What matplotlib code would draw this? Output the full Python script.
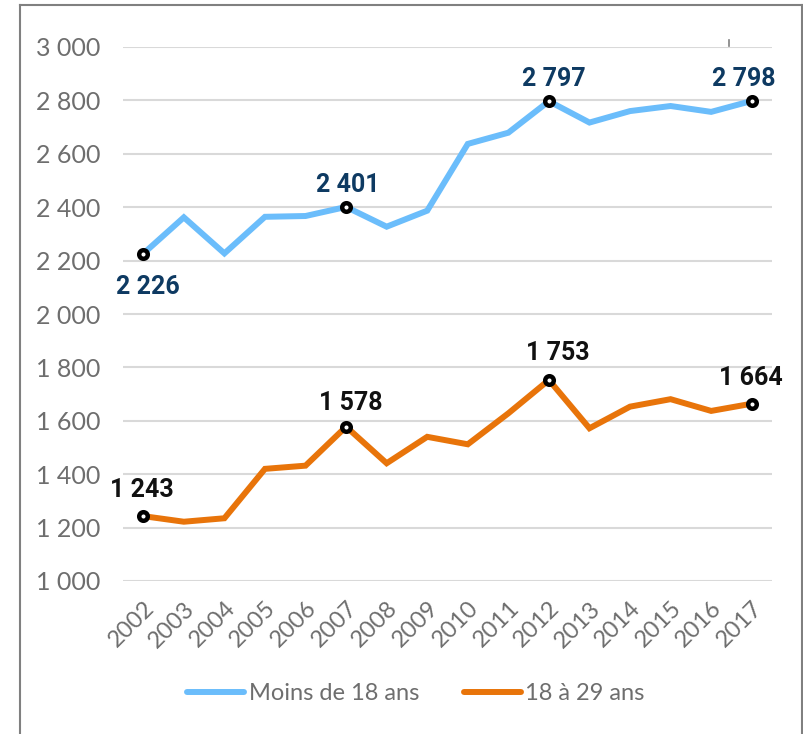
import matplotlib
matplotlib.use("Agg")
import matplotlib.pyplot as plt
from matplotlib.lines import Line2D

years = ["2002", "2003", "2004", "2005", "2006", "2007", "2008", "2009",
         "2010", "2011", "2012", "2013", "2014", "2015", "2016", "2017"]
moins18 = [2226, 2362, 2227, 2364, 2367, 2401, 2327, 2387,
           2637, 2679, 2797, 2717, 2760, 2779, 2757, 2798]
de18a29 = [1243, 1222, 1235, 1420, 1432, 1578, 1441, 1540,
           1512, 1628, 1753, 1572, 1653, 1681, 1637, 1664]
series_names = ["Moins de 18 ans", "18 à 29 ans"]
yticks = [1000, 1200, 1400, 1600, 1800, 2000, 2200, 2400, 2600, 2800, 3000]

# labelled points: (index, pixel offset)
blue_labels = [(0, (5, -33)), (5, (2, 22)), (10, (5, 22)), (15, (-8, 22))]
orange_labels = [(0, (-1, 26)), (5, (5, 24)), (10, (9, 27)), (15, (-1, 26))]

plt.rcParams['font.family'] = ['Lato', 'DejaVu Sans']

W, H = 804, 734
fig = plt.figure(figsize=(W / 100, H / 100), dpi=100)
ax = fig.add_axes([123 / W, 1 - 581 / H, (772 - 123) / W, (581 - 47) / H])

blue = "#6BBDFB"
orange = "#E8740A"
grey_txt = "#6E6E6E"

x = list(range(len(years)))
ax.plot(x, moins18, color=blue, lw=4.3, solid_joinstyle='miter', label=series_names[0], zorder=3)
ax.plot(x, de18a29, color=orange, lw=4.3, solid_joinstyle='miter', label=series_names[1], zorder=3)

def fmt(v):
    return f"{v:,}".replace(",", " ")

for vals, labs, col in [(moins18, blue_labels, "#0E3A62"), (de18a29, orange_labels, "#111111")]:
    for i, (dx, dy) in labs:
        ax.plot(x[i], vals[i], marker='o', ms=6.2, mfc='white', mec='black', mew=3.2, zorder=4, clip_on=False)
        ax.annotate(fmt(vals[i]), (x[i], vals[i]), xytext=(dx, dy), textcoords='offset pixels',
                    ha='center', va='center', fontsize=18, fontweight='bold', color=col,
                    family=['Roboto', 'DejaVu Sans'], annotation_clip=False, zorder=5)

ax.set_xlim(-0.5, len(years) - 0.5)
ax.set_ylim(1000, 3000)
ax.set_yticks(yticks)
ax.set_yticklabels([fmt(v) for v in yticks], color=grey_txt, fontsize=18)
ax.set_xticks(x)
ax.set_xticklabels(years, rotation=45, ha='right', rotation_mode='anchor', color=grey_txt, fontsize=17)
ax.tick_params(axis='both', length=0)
ax.tick_params(axis='y', pad=16)
ax.tick_params(axis='x', pad=12)
for s in ax.spines.values():
    s.set_visible(False)
ax.grid(axis='y', color='#D9D9D9', lw=1.5, zorder=0)
ax.set_axisbelow(True)

leg = fig.legend(loc='center', bbox_to_anchor=(416 / W, 1 - 694 / H), ncol=2, frameon=False,
                 fontsize=17, handlelength=2.4, columnspacing=1.9, handletextpad=0.2)
for t in leg.get_texts():
    t.set_color(grey_txt)
for l in leg.get_lines():
    l.set_solid_capstyle('round')

# outer frame (open at bottom)
fc = "#808080"
fig.add_artist(Line2D([20 / W, 20 / W], [0, 1 - 5 / H], color=fc, lw=1.5, transform=fig.transFigure))
fig.add_artist(Line2D([20 / W, 802 / W], [1 - 5 / H, 1 - 5 / H], color=fc, lw=1.5, transform=fig.transFigure))
fig.add_artist(Line2D([802 / W, 802 / W], [0, 1 - 5 / H], color=fc, lw=1.5, transform=fig.transFigure))
fig.add_artist(Line2D([729 / W, 729 / W], [1 - 40 / H, 1 - 46 / H], color=fc, lw=1.2, transform=fig.transFigure))

fig.savefig("out.png", dpi=100)
